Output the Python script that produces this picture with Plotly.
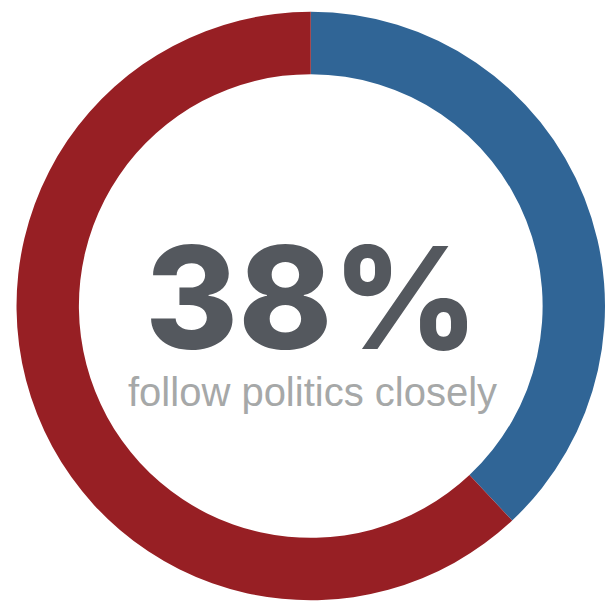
import plotly.graph_objects as go

labels = ["Follow politics closely", "Do not"]
values = [38, 62]
colors = ["#306596", "#971f24"]
big_text = "38%"
sub_text = "follow politics closely"

fig = go.Figure()
fig.add_trace(go.Pie(
    labels=labels,
    values=values,
    hole=0.788,
    sort=False,
    direction="clockwise",
    rotation=0,
    marker=dict(colors=colors, line=dict(width=0)),
    textinfo="none",
    hoverinfo="label+percent",
    showlegend=False,
    domain=dict(x=[0.0273, 1.0], y=[0.0, 0.9817]),
))

fig.add_annotation(
    text=big_text, x=0.5165, y=0.5055, xref="paper", yref="paper",
    xanchor="center", yanchor="middle", showarrow=False,
    font=dict(family="Inter", size=142, color="#54585e", weight=800),
)
fig.add_annotation(
    text=sub_text, x=0.5165, y=0.347, xref="paper", yref="paper",
    xanchor="center", yanchor="middle", showarrow=False,
    font=dict(family="Liberation Sans, Arial", size=40, color="#a6a8a8"),
)

fig.update_layout(
    width=605, height=601,
    margin=dict(l=0, r=0, t=0, b=0),
    paper_bgcolor="white", plot_bgcolor="white",
)
fig.write_html(
    "out.html",
    config={"displayModeBar": False},
    post_script="document.body.style.margin='0';document.body.style.overflow='hidden';document.documentElement.style.overflow='hidden';",
)
